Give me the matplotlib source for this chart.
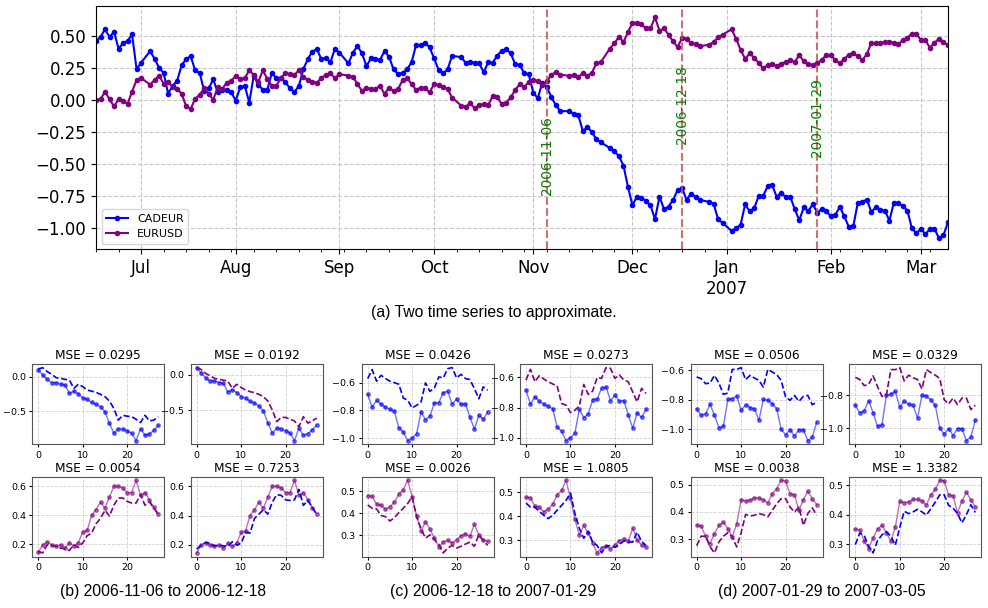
import numpy as np
import pandas as pd
import matplotlib
matplotlib.use('Agg')
import matplotlib.pyplot as plt
from matplotlib.ticker import MultipleLocator, FixedLocator, FuncFormatter

# ---- main series ----
# business days before 2006-11-06
cad_pre = [0.46, 0.49, 0.55, 0.49, 0.53, 0.40, 0.44, 0.46, 0.51, 0.24, 0.29,
           0.38, 0.32, 0.25, 0.21, 0.05, 0.11, 0.15, 0.27, 0.32, 0.34, 0.23, 0.21, 0.07, 0.09,
           0.16, 0.06, 0.08, 0.08, 0.06, -0.005, 0.10, 0.11, -0.02, 0.19, 0.12, 0.08, 0.08,
           0.21, 0.17, 0.17, 0.14, 0.09, 0.06, 0.11, 0.24, 0.32, 0.376, 0.396, 0.316, 0.329,
           0.293, 0.40, 0.368,
           0.285, 0.368, 0.42, 0.363, 0.264, 0.324, 0.319, 0.311, 0.381, 0.337, 0.238, 0.202,
           0.212, 0.238, 0.293, 0.427, 0.427, 0.446, 0.409, 0.324, 0.233, 0.207, 0.238, 0.345,
           0.332, 0.29, 0.293, 0.29, 0.285, 0.215, 0.293, 0.29, 0.345, 0.383, 0.394, 0.363,
           0.277, 0.272, 0.207, 0.20, 0.057, 0.013, 0.135]
eur_pre = [0.0, 0.005, 0.065, 0.005, -0.05, 0.005, -0.01, -0.03, 0.065, 0.155, 0.17,
           0.12, 0.155, 0.19, 0.125, 0.14, 0.10, 0.085, 0.05, -0.05, -0.07, 0.01, 0.04, 0.09,
           0.05, 0.0, 0.10, 0.085, 0.135, 0.15, 0.185, 0.165, 0.17, 0.23, 0.195, 0.14, 0.23,
           0.165, 0.11, 0.11, 0.17, 0.21, 0.20, 0.195, 0.23, 0.18, 0.155, 0.14, 0.135, 0.17,
           0.195, 0.207, 0.17, 0.20,
           0.19, 0.18, 0.124, 0.07, 0.096, 0.085, 0.085, 0.11, 0.047, 0.096, 0.07, 0.083,
           0.155, 0.17, 0.124, 0.078, 0.096, 0.09, 0.06, 0.124, 0.117, 0.104, 0.085, 0.018,
           -0.044, -0.052, -0.026, -0.065, -0.039, -0.034, -0.039, 0.031, 0.021, -0.031,
           -0.021, 0.021, 0.078, 0.124, 0.10, 0.14, 0.155, 0.148, 0.117]

# window (b) 2006-11-06 .. 2006-12-18
cad_b = [0.10, 0.024, -0.04, -0.087, -0.087, -0.11, -0.12, -0.243, -0.21, -0.25, -0.306, -0.33,
         -0.374, -0.40, -0.437, -0.51, -0.675, -0.82, -0.752, -0.762, -0.786, -0.82, -0.927,
         -0.752, -0.85, -0.83, -0.777, -0.704]
eur_b = [0.144, 0.197, 0.215, 0.197, 0.188, 0.197, 0.176, 0.21, 0.188, 0.21, 0.285, 0.296, 0.40,
         0.44, 0.492, 0.45, 0.527, 0.60, 0.60, 0.589, 0.557, 0.557, 0.642, 0.539, 0.557, 0.508,
         0.455, 0.412]
# window (c) 2006-12-18 .. 2007-01-29
cad_c = [-0.684, -0.778, -0.728, -0.757, -0.778, -0.793, -0.807, -0.928, -0.957, -1.019, -1.0,
         -0.969, -0.812, -0.867, -0.843, -0.747, -0.745, -0.672, -0.663, -0.754, -0.72, -0.757,
         -0.754, -0.848, -0.937, -0.836, -0.865, -0.812]
eur_c = [0.48, 0.477, 0.441, 0.438, 0.418, 0.43, 0.45, 0.487, 0.508, 0.55, 0.475, 0.388, 0.32,
         0.362, 0.328, 0.287, 0.247, 0.269, 0.277, 0.265, 0.28, 0.298, 0.307, 0.295, 0.35,
         0.302, 0.28, 0.272]
# two days between windows
cad_mid = [-0.876, -0.85]
eur_mid = [0.29, 0.31]
# window (d) 2007-01-29 .. 2007-03-05
cad_d = [-0.861, -0.906, -0.894, -0.831, -0.906, -0.989, -0.98, -0.798, -0.793, -0.775, -0.872,
         -0.834, -0.854, -0.861, -0.939, -0.798, -0.804, -0.827, -0.861, -1.0, -1.036, -1.002,
         -1.045, -1.002, -1.002, -1.076, -1.052, -0.951]
eur_d = [0.351, 0.348, 0.311, 0.284, 0.321, 0.351, 0.363, 0.339, 0.309, 0.357, 0.445, 0.44,
         0.443, 0.452, 0.451, 0.445, 0.433, 0.467, 0.485, 0.516, 0.513, 0.467, 0.463, 0.406,
         0.445, 0.476, 0.449, 0.427]

# ---- approximations (dashed) ----
b_cad_self = [0.11, 0.13, 0.073, 0.034, -0.015, -0.024, -0.04, -0.05, -0.17, -0.11, -0.146, -0.194,
              -0.21, -0.228, -0.257, -0.29, -0.354, -0.46, -0.63, -0.56, -0.573, -0.58, -0.617,
              -0.665, -0.56, -0.64, -0.63, -0.58]
b_cad_cross = [0.10, 0.075, 0.02, -0.014, -0.05, -0.065, -0.075, -0.09, -0.19, -0.135, -0.18,
               -0.215, -0.238, -0.252, -0.276, -0.308, -0.37, -0.495, -0.66, -0.60, -0.60, -0.626,
               -0.65, -0.73, -0.59, -0.68, -0.65, -0.61]
b_eur_self = [0.15, 0.141, 0.197, 0.192, 0.188, 0.174, 0.169, 0.158, 0.197, 0.178, 0.21, 0.26,
              0.278, 0.342, 0.38, 0.435, 0.395, 0.47, 0.52, 0.52, 0.497, 0.485, 0.485, 0.543,
              0.47, 0.492, 0.45, 0.405]
b_eur_cross = [0.17, 0.197, 0.215, 0.21, 0.192, 0.197, 0.192, 0.188, 0.22, 0.197, 0.21, 0.285,
               0.28, 0.38, 0.41, 0.44, 0.41, 0.492, 0.543, 0.539, 0.508, 0.504, 0.508, 0.58,
               0.47, 0.504, 0.458, 0.405]
c_cad_self = [-0.571, -0.506, -0.59, -0.547, -0.571, -0.59, -0.60, -0.612, -0.711, -0.728, -0.783,
              -0.764, -0.74, -0.602, -0.663, -0.639, -0.559, -0.566, -0.499, -0.492, -0.566,
              -0.54, -0.571, -0.578, -0.643, -0.716, -0.631, -0.655]
c_cad_cross = [-0.618, -0.547, -0.629, -0.589, -0.611, -0.629, -0.644, -0.656, -0.773, -0.784,
               -0.833, -0.818, -0.789, -0.647, -0.713, -0.691, -0.602, -0.607, -0.536, -0.54,
               -0.607, -0.584, -0.618, -0.629, -0.696, -0.762, -0.673, -0.707]
c_eur_self = [0.438, 0.423, 0.42, 0.39, 0.385, 0.365, 0.38, 0.403, 0.423, 0.445, 0.475, 0.385,
              0.329, 0.287, 0.302, 0.28, 0.26, 0.22, 0.242, 0.254, 0.242, 0.25, 0.26, 0.269,
              0.25, 0.302, 0.275, 0.254]
c_eur_cross = [0.455, 0.438, 0.438, 0.42, 0.404, 0.39, 0.404, 0.425, 0.445, 0.466, 0.497, 0.411,
               0.349, 0.308, 0.338, 0.292, 0.278, 0.247, 0.274, 0.278, 0.27, 0.281, 0.297,
               0.292, 0.292, 0.333, 0.295, 0.278]
d_cad_self = [-0.647, -0.658, -0.692, -0.688, -0.636, -0.688, -0.764, -0.755, -0.596, -0.596,
              -0.584, -0.665, -0.636, -0.654, -0.67, -0.715, -0.596, -0.613, -0.631, -0.67,
              -0.782, -0.804, -0.771, -0.811, -0.778, -0.771, -0.834, -0.816]
d_cad_cross = [-0.69, -0.702, -0.74, -0.732, -0.68, -0.746, -0.806, -0.796, -0.642, -0.642, -0.63,
               -0.71, -0.676, -0.692, -0.702, -0.76, -0.642, -0.66, -0.676, -0.696, -0.826,
               -0.852, -0.816, -0.856, -0.816, -0.816, -0.886, -0.86]
d_eur_self = [0.276, 0.311, 0.311, 0.272, 0.25, 0.29, 0.311, 0.324, 0.309, 0.272, 0.324, 0.391,
              0.385, 0.388, 0.394, 0.39, 0.382, 0.406, 0.43, 0.449, 0.449, 0.418, 0.40, 0.418,
              0.351, 0.394, 0.415, 0.388]
d_eur_cross = [0.298, 0.337, 0.329, 0.292, 0.27, 0.311, 0.331, 0.342, 0.326, 0.296, 0.356, 0.411,
               0.403, 0.409, 0.418, 0.409, 0.398, 0.42, 0.442, 0.467, 0.467, 0.431, 0.422,
               0.403, 0.372, 0.40, 0.433, 0.407]

mse_b = ['0.0295', '0.0192', '0.0054', '0.7253']
mse_c = ['0.0426', '0.0273', '0.0026', '1.0805']
mse_d = ['0.0506', '0.0329', '0.0038', '1.3382']

split_dates = ['2006-11-06', '2006-12-18', '2007-01-29']
split_label_y = [-0.433, -0.037, -0.136]
captions = ['(b) 2006-11-06 to 2006-12-18', '(c) 2006-12-18 to 2007-01-29',
            '(d) 2007-01-29 to 2007-03-05']

# ---- dates / positions on a business-day axis ----
full_days = pd.bdate_range('2006-06-19', '2007-03-09')
holidays = pd.to_datetime(['2006-07-04', '2006-09-04', '2006-10-09', '2006-11-10',
                           '2006-11-23', '2006-12-25', '2007-01-01'])
dates = full_days.difference(holidays)
pos = full_days.get_indexer(dates)

cadeur = np.array(cad_pre + cad_b + cad_c + cad_mid + cad_d)
eurusd = np.array(eur_pre + eur_b + eur_c + eur_mid + eur_d)

W, H = 988, 608
fig = plt.figure(figsize=(W / 100, H / 100), dpi=100)


def px_axes(l, t, r, b):
    return fig.add_axes([l / W, 1 - b / H, (r - l) / W, (b - t) / H])


BLUE = '#0000ff'
PURPLE = '#800080'

# ---- (a) main chart ----
ax = px_axes(96, 6.4, 948, 249.3)
ax.plot(pos, cadeur, '-o', color=BLUE, lw=1.5, ms=3, label='CADEUR')
ax.plot(pos, eurusd, '-o', color=PURPLE, lw=1.5, ms=3, label='EURUSD')
ax.set_xlim(pos[0], pos[-1])
ax.yaxis.set_major_locator(MultipleLocator(0.25))
ax.yaxis.set_major_formatter(FuncFormatter(lambda v, p: f'{v:.2f}'.replace('-', '\u2212')))

months = full_days.month
is_first = np.r_[False, months[1:] != months[:-1]]
major_pos = np.where(is_first)[0]
major_lab = [d.strftime('%b') + ('\n%d' % d.year if d.month == 1 else '')
             for d in full_days[major_pos]]
ax.xaxis.set_major_locator(FixedLocator(major_pos))
ax.set_xticklabels(major_lab)
ax.xaxis.set_minor_locator(FixedLocator(np.where(full_days.dayofweek == 0)[0]))
ax.tick_params(axis='both', which='major', labelsize=12)
ax.grid(True, which='major', ls='--', color='#c8c8c8', lw=0.8)

for d, ty in zip(split_dates, split_label_y):
    xp = full_days.get_loc(pd.Timestamp(d))
    ax.axvline(xp, color='#c0504d', ls='--', lw=1.5, alpha=0.8)
    ax.text(xp, ty, d, rotation=90, ha='center', va='center', color='green', fontsize=9.8)

ax.legend(loc='lower left', fontsize=8)

fig.text(494 / W, 1 - 312 / H, '(a) Two time series to approximate.', ha='center',
         va='center', fontsize=11.3, family='Liberation Sans')

# ---- (b)(c)(d) windows ----
col_left = [32.3, 190.7, 361.7, 520.0, 690.7, 849.3]
ax_w = 132
rows = [(364, 444.3), (476.7, 556.5)]
groups = [
    (cad_b, eur_b, b_cad_self, b_cad_cross, b_eur_self, b_eur_cross, mse_b, 0.5, 0.2),
    (cad_c, eur_c, c_cad_self, c_cad_cross, c_eur_self, c_eur_cross, mse_c, 0.2, 0.1),
    (cad_d, eur_d, d_cad_self, d_cad_cross, d_eur_self, d_eur_cross, mse_d, 0.2, 0.1),
]
cap_x = [163, 493, 821.5]

for g, (cad, eur, cs, cc, es, ec, mse, step_top, step_bot) in enumerate(groups):
    panels = [
        (0, 0, cad, BLUE, cs, BLUE, step_top),
        (0, 1, cad, BLUE, cc, PURPLE, step_top),
        (1, 0, eur, PURPLE, es, PURPLE, step_bot),
        (1, 1, eur, PURPLE, ec, BLUE, step_bot),
    ]
    for k, (r, c, solid, scol, dashed, dcol, step) in enumerate(panels):
        l = col_left[2 * g + c]
        t, b = rows[r]
        sa = px_axes(l, t, l + ax_w, b)
        steps = np.arange(len(solid))
        sa.plot(steps, solid, '-o', color=scol, alpha=0.55, lw=1.0, ms=2.5)
        sa.plot(steps, dashed, '--', color=dcol, lw=1.2)
        sa.set_title('MSE = ' + mse[k], fontsize=8.7, pad=3.5)
        sa.xaxis.set_major_locator(MultipleLocator(10))
        sa.yaxis.set_major_locator(MultipleLocator(step))
        sa.tick_params(labelsize=6.8, length=2.5, width=0.8, pad=2)
        sa.grid(True, ls='--', color='#d0d0d0', lw=0.6)
        for sp in sa.spines.values():
            sp.set_color('#555555')
    fig.text(cap_x[g] / W, 1 - 591.5 / H, captions[g], ha='center', va='center',
             fontsize=11.3, family='Liberation Sans')

fig.savefig('out.png', dpi=100)
